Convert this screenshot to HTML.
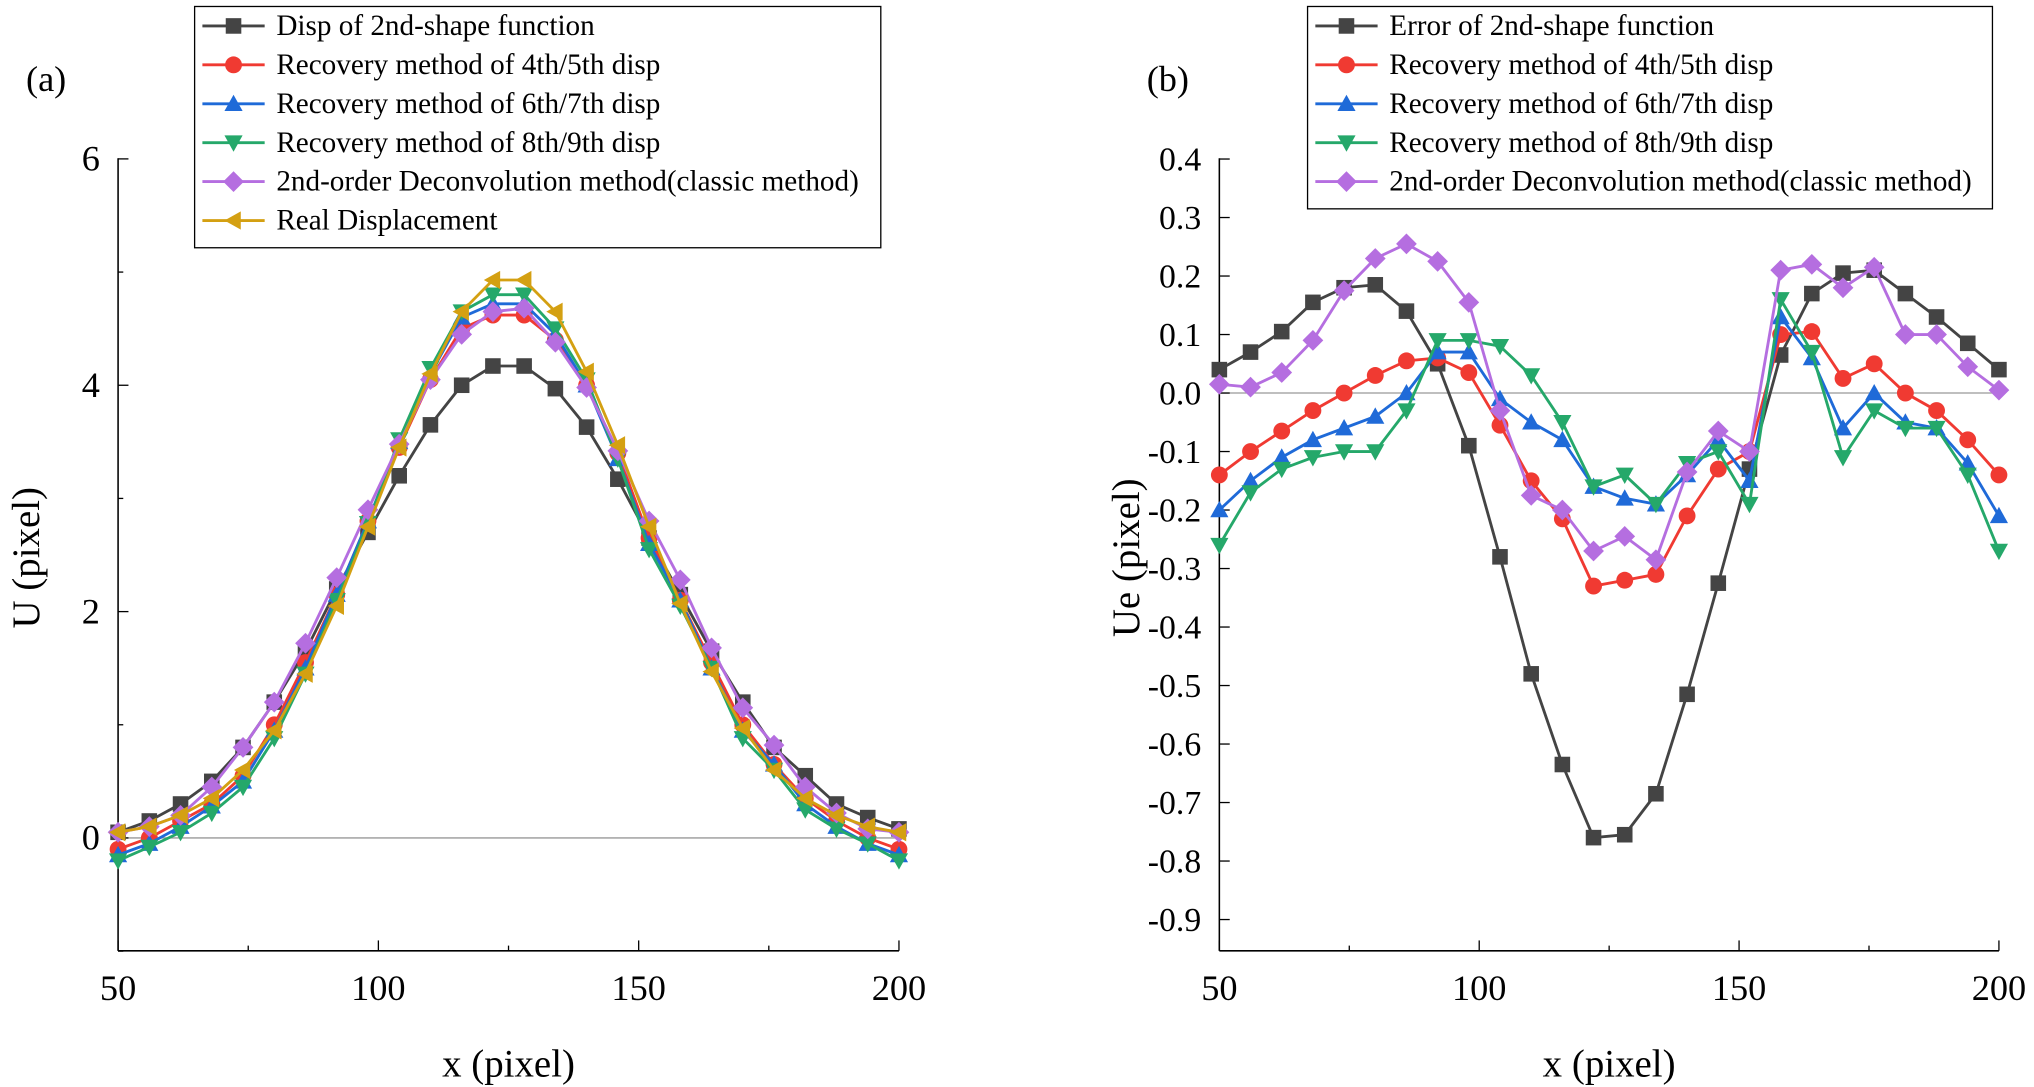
<!DOCTYPE html>
<html><head><meta charset="utf-8"><style>
body{margin:0;background:#fff;}
svg{display:block;font-family:"Liberation Serif",serif;}
</style></head><body>
<svg id="c" width="2034" height="1087" viewBox="0 0 1568 838" style="width:2034px;height:1087px"></svg>
<script>
const xs=[50,56,62,68,74,80,86,92,98,104,110,116,122,128,134,140,146,152,158,164,170,176,182,188,194,200];
const aBlack=[0.05,0.15,0.3,0.5,0.8,1.2,1.65,2.2,2.7,3.2,3.65,4.0,4.17,4.17,3.97,3.63,3.17,2.65,2.15,1.65,1.2,0.8,0.55,0.3,0.18,0.08];
const aRed=[-0.1,0.0,0.15,0.3,0.55,1.0,1.55,2.15,2.8,3.45,4.05,4.5,4.62,4.62,4.4,4.0,3.4,2.65,2.1,1.55,1.0,0.65,0.35,0.15,0.0,-0.1];
const aBlue=[-0.15,-0.05,0.1,0.28,0.5,0.95,1.5,2.15,2.8,3.5,4.1,4.6,4.72,4.72,4.45,4.0,3.35,2.6,2.1,1.5,0.95,0.65,0.3,0.1,-0.05,-0.15];
const aGreen=[-0.2,-0.08,0.05,0.22,0.45,0.88,1.45,2.1,2.78,3.52,4.15,4.65,4.8,4.8,4.5,4.05,3.35,2.55,2.05,1.5,0.88,0.6,0.25,0.08,-0.05,-0.2];
const aPurple=[0.05,0.1,0.2,0.45,0.8,1.2,1.72,2.3,2.9,3.48,4.05,4.45,4.65,4.68,4.38,3.98,3.42,2.8,2.28,1.68,1.15,0.82,0.45,0.22,0.08,0.05];
const aReal=[0.05,0.1,0.2,0.35,0.6,0.95,1.45,2.05,2.75,3.45,4.1,4.65,4.93,4.93,4.65,4.12,3.47,2.75,2.07,1.47,0.97,0.6,0.35,0.2,0.1,0.05];
const bBlack=[0.04,0.07,0.105,0.155,0.18,0.185,0.14,0.05,-0.09,-0.28,-0.48,-0.635,-0.76,-0.755,-0.685,-0.515,-0.325,-0.13,0.065,0.17,0.205,0.21,0.17,0.13,0.085,0.04];
const bRed=[-0.14,-0.1,-0.065,-0.03,0.0,0.03,0.055,0.06,0.035,-0.055,-0.15,-0.215,-0.33,-0.32,-0.31,-0.21,-0.13,-0.1,0.1,0.105,0.025,0.05,0.0,-0.03,-0.08,-0.14];
const bBlue=[-0.2,-0.15,-0.11,-0.08,-0.06,-0.04,0.0,0.07,0.07,-0.01,-0.05,-0.08,-0.16,-0.18,-0.19,-0.14,-0.08,-0.15,0.13,0.06,-0.06,0.0,-0.05,-0.06,-0.12,-0.21];
const bGreen=[-0.26,-0.17,-0.13,-0.11,-0.1,-0.1,-0.03,0.09,0.09,0.08,0.03,-0.05,-0.16,-0.14,-0.19,-0.12,-0.1,-0.19,0.16,0.07,-0.11,-0.03,-0.06,-0.06,-0.14,-0.27];
const bPurple=[0.015,0.01,0.035,0.09,0.175,0.23,0.255,0.225,0.155,-0.03,-0.175,-0.2,-0.27,-0.245,-0.285,-0.135,-0.065,-0.1,0.21,0.22,0.18,0.215,0.1,0.1,0.045,0.005];
const aYTicks=[0,2,4,6];
const bYTicks=[0.4,0.3,0.2,0.1,0.0,-0.1,-0.2,-0.3,-0.4,-0.5,-0.6,-0.7,-0.8,-0.9];
const xTicks=[50,100,150,200];
const aLegend=["Disp of 2nd-shape function","Recovery method of 4th/5th disp","Recovery method of 6th/7th disp","Recovery method of 8th/9th disp","2nd-order Deconvolution method(classic method)","Real Displacement"];
const bLegend=["Error of 2nd-shape function","Recovery method of 4th/5th disp","Recovery method of 6th/7th disp","Recovery method of 8th/9th disp","2nd-order Deconvolution method(classic method)"];
const COL=["#444","#f03a32","#1f6ad8","#25a86a","#b56ee0","#d4a012"];
const MK=["sq","ci","tu","td","di","tl"];
const NS="http://www.w3.org/2000/svg";
const svg=document.getElementById('c');
function el(t,a,p){const e=document.createElementNS(NS,t);for(const k in a)e.setAttribute(k,a[k]);(p||svg).appendChild(e);return e;}
function marker(g,type,x,y,c){const s=7;let e;
 if(type==="sq")e=el('rect',{x:x-s+1,y:y-s+1,width:2*s-2,height:2*s-2,fill:c},g);
 else if(type==="ci")e=el('circle',{cx:x,cy:y,r:s-0.5,fill:c},g);
 else {let p;
  if(type==="tu")p=[[x,y-s],[x+s,y+s*0.8],[x-s,y+s*0.8]];
  if(type==="td")p=[[x,y+s],[x+s,y-s*0.8],[x-s,y-s*0.8]];
  if(type==="di")p=[[x,y-s-1],[x+s+1,y],[x,y+s+1],[x-s-1,y]];
  if(type==="tl")p=[[x-s,y],[x+s*0.8,y-s],[x+s*0.8,y+s]];
  e=el('polygon',{points:p.map(q=>q.join(',')).join(' '),fill:c},g);}
 
 }
function chart(o){
 const X=v=>o.x0+(v-50)/150*(o.x1-o.x0);
 const Y=v=>o.yz+(v-o.yzv)*o.k;
 const g=el('g',{});
 
 
 const zl=el('line',{x1:o.x0,x2:o.x1,y1:Y(0),y2:Y(0),stroke:'#999','stroke-width':1},g);
 
 const ya=el('line',{x1:o.x0,x2:o.x0,y1:o.top,y2:733,stroke:'#000','stroke-width':1.2},g);
 
 const xa=el('line',{x1:o.x0,x2:o.x1,y1:733,y2:733,stroke:'#000','stroke-width':1.2},g);
 
 xTicks.forEach(v=>{el('line',{x1:X(v),x2:X(v),y1:733,y2:725,stroke:'#000'},g);
  const t=el('text',{x:X(v),y:771,'text-anchor':'middle','font-size':28},g);t.textContent=v;
  });
 [75,125,175].forEach(v=>el('line',{x1:X(v),x2:X(v),y1:733,y2:729,stroke:'#000'},g));
 o.yt.forEach(v=>{el('line',{x1:o.x0,x2:o.x0+8,y1:Y(v),y2:Y(v),stroke:'#000'},g);
  const t=el('text',{x:o.x0-14,y:Y(v)+9,'text-anchor':'end','font-size':o.tfs},g);t.textContent=o.fmt(v);
  });
 (o.minor||[]).forEach(v=>el('line',{x1:o.x0,x2:o.x0+4,y1:Y(v),y2:Y(v),stroke:'#000'},g));
 const xt=el('text',{x:(o.x0+o.x1)/2,y:830,'text-anchor':'middle','font-size':30},g);xt.textContent='x (pixel)';
 
 const yt=el('text',{x:0,y:0,'text-anchor':'middle','font-size':30,transform:`translate(${o.ytx},430) rotate(-90)`},g);yt.textContent=o.ytitle;
 
 const pl=el('text',{x:o.plx,y:70,'font-size':28},g);pl.textContent=o.panel;
 
 o.series.forEach((s,i)=>{
  const sg=el('g',{},g);
  
  const p=el('polyline',{points:xs.map((x,j)=>X(x)+','+Y(s[j])).join(' '),fill:'none',stroke:COL[i],'stroke-width':2.2},sg);
  
  xs.forEach((x,j)=>marker(sg,MK[i],X(x),Y(s[j]),COL[i]));});
 const lg=el('g',{},g);
 const h=o.legend.length*30+6;
 el('rect',{x:o.lx,y:5,width:o.lw,height:h,fill:'#fff',stroke:'#000','stroke-width':1},lg);
 o.legend.forEach((t,i)=>{const yy=20+i*30;
  const e=el('g',{},lg);
  el('line',{x1:o.lx+6,x2:o.lx+54,y1:yy,y2:yy,stroke:COL[i],'stroke-width':2.2},e);
  marker(e,MK[i],o.lx+30,yy,COL[i]);
  const tx=el('text',{x:o.lx+63,y:yy+7,'font-size':22.5},e);tx.textContent=t;});
}
chart({name:'chart-a',x0:91,x1:693,yz:646,yzv:0,k:-87.25,top:122,yt:aYTicks,minor:[-1,1,3,5],tfs:28,fmt:v=>v,ytitle:'U (pixel)',ytx:30,panel:'(a)',plx:20,
 series:[aBlack,aRed,aBlue,aGreen,aPurple,aReal],legend:aLegend,lx:150,lw:529});
chart({name:'chart-b',x0:940,x1:1541,yz:303,yzv:0,k:-451,top:122,yt:bYTicks,tfs:26,fmt:v=>v.toFixed(1),ytitle:'Ue (pixel)',ytx:878,panel:'(b)',plx:884,
 series:[bBlack,bRed,bBlue,bGreen,bPurple],legend:bLegend,lx:1008,lw:528});
</script>
</body></html>
